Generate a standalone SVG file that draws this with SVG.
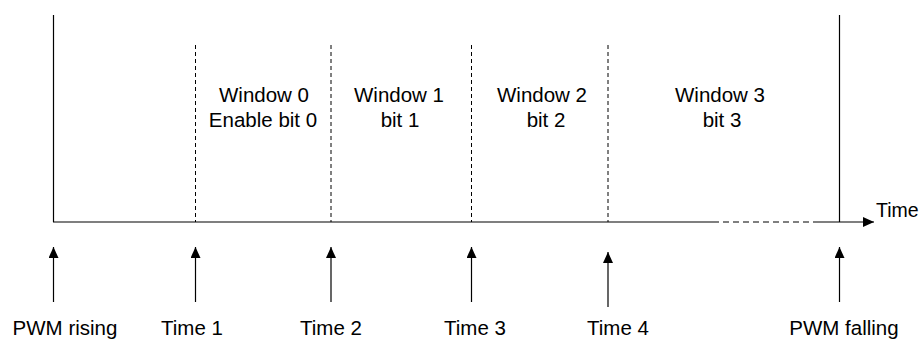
<svg xmlns="http://www.w3.org/2000/svg" width="921" height="340" viewBox="0 0 921 340">
<defs>
<style>
text{font-family:"Liberation Sans",Arial,sans-serif;font-size:20.5px;fill:#000;text-anchor:middle}
.solid{stroke:#000;stroke-width:1.2;fill:none}
.dash{stroke:#000;stroke-width:1;fill:none;stroke-dasharray:4 3}
.adash{stroke:#000;stroke-width:1.2;fill:none;stroke-dasharray:6 4}
.arr{stroke:#000;stroke-width:1.2;fill:none;marker-end:url(#ah)}
</style>
<marker id="ah" markerUnits="userSpaceOnUse" markerWidth="11" markerHeight="10" refX="11" refY="5" orient="auto">
<path d="M0,0 L11,5 L0,10 z" fill="#000"/>
</marker>
</defs>
<rect width="921" height="340" fill="#fff"/>
<g id="connectors">
<line class="solid" x1="53.5" y1="15" x2="53.5" y2="222"/>
<line class="solid" x1="839.5" y1="15" x2="839.5" y2="222"/>
<line class="dash" x1="195.5" y1="45" x2="195.5" y2="222"/>
<line class="dash" x1="331" y1="45" x2="331" y2="222"/>
<line class="dash" x1="471.5" y1="45" x2="471.5" y2="222"/>
<line class="dash" x1="608" y1="45" x2="608" y2="222"/>
<line class="solid" x1="53" y1="222" x2="713" y2="222"/>
<line class="adash" x1="713" y1="222" x2="818" y2="222"/>
<line class="arr" x1="818" y1="222" x2="874" y2="222"/>
<line class="arr" x1="53.5" y1="302" x2="53.5" y2="247"/>
<line class="arr" x1="195.5" y1="302" x2="195.5" y2="247"/>
<line class="arr" x1="331" y1="302" x2="331" y2="247"/>
<line class="arr" x1="471.5" y1="302" x2="471.5" y2="247"/>
<line class="arr" x1="608" y1="307" x2="608" y2="252"/>
<line class="arr" x1="839.5" y1="302" x2="839.5" y2="247"/>
</g>
<g id="axis-label"><text x="876" y="217" style="text-anchor:start;font-size:19.5px">Time</text></g>
<g id="window0"><text x="264" y="102">Window 0</text><text x="263" y="127">Enable bit 0</text></g>
<g id="window1"><text x="399" y="102">Window 1</text><text x="400" y="127">bit 1</text></g>
<g id="window2"><text x="542" y="102">Window 2</text><text x="546" y="127">bit 2</text></g>
<g id="window3"><text x="720" y="102">Window 3</text><text x="722" y="127">bit 3</text></g>
<g id="pwm-rising"><text x="65" y="335">PWM rising</text></g>
<g id="time1"><text x="192" y="335">Time 1</text></g>
<g id="time2"><text x="331" y="335">Time 2</text></g>
<g id="time3"><text x="475" y="335">Time 3</text></g>
<g id="time4"><text x="618" y="335">Time 4</text></g>
<g id="pwm-falling"><text x="844" y="335">PWM falling</text></g>
</svg>
